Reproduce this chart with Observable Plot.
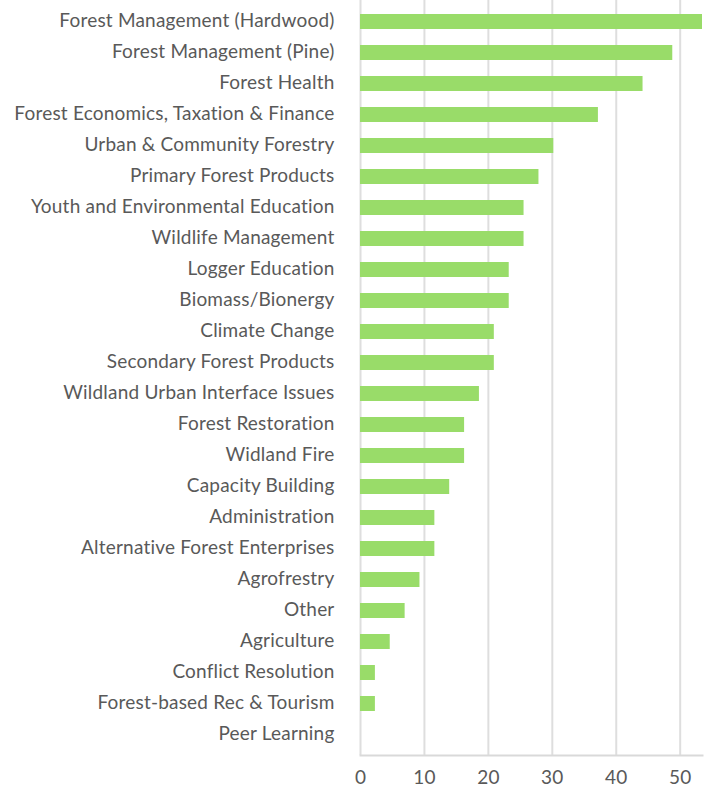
<!DOCTYPE html>
<html>
<head>
<meta charset="utf-8">
<script src="https://cdn.jsdelivr.net/npm/d3@7"></script>
<script src="https://cdn.jsdelivr.net/npm/@observablehq/plot@0.6"></script>
<style>
  html, body { margin: 0; padding: 0; background: #fff; }
  #chart { width: 711px; height: 787px; }
  #chart text { letter-spacing: 0.2px; }
</style>
</head>
<body>
<div id="chart"></div>
<script>
const categories = [
  "Forest Management (Hardwood)",
  "Forest Management (Pine)",
  "Forest Health",
  "Forest Economics, Taxation & Finance",
  "Urban & Community Forestry",
  "Primary Forest Products",
  "Youth and Environmental Education",
  "Wildlife Management",
  "Logger Education",
  "Biomass/Bionergy",
  "Climate Change",
  "Secondary Forest Products",
  "Wildland Urban Interface Issues",
  "Forest Restoration",
  "Widland Fire",
  "Capacity Building",
  "Administration",
  "Alternative Forest Enterprises",
  "Agrofrestry",
  "Other",
  "Agriculture",
  "Conflict Resolution",
  "Forest-based Rec & Tourism",
  "Peer Learning"
];
const values = [53.49, 48.84, 44.19, 37.21, 30.23, 27.91, 25.58, 25.58, 23.26, 23.26, 20.93, 20.93, 18.60, 16.28, 16.28, 13.95, 11.63, 11.63, 9.30, 6.98, 4.65, 2.33, 2.33, 0];
const xTicks = [0, 10, 20, 30, 40, 50];

const data = categories.map((c, i) => ({category: c, value: values[i]}));

const chart = Plot.plot({
  width: 711,
  height: 787,
  marginLeft: 360,
  marginRight: 9,
  marginTop: 0,
  marginBottom: 32,
  style: {fontFamily: "Lato, sans-serif", fontSize: "19px", color: "#595959", background: "#fff"},
  x: {domain: [0, 53.49], ticks: xTicks},
  y: {domain: categories, paddingInner: 0.52, paddingOuter: 0.36},
  marks: [
    Plot.gridX(xTicks, {stroke: "#dedede", strokeWidth: 2, strokeOpacity: 1}),
    Plot.frame({anchor: "bottom", stroke: "#d9d9d9", strokeWidth: 2}),
    Plot.barX(data, {x: "value", y: "category", fill: "#99dc69"}),
    Plot.axisX(xTicks, {tickSize: 0, tickPadding: 15, label: null, fontSize: 19, fill: "#595959"}),
    Plot.axisY({tickSize: 0, tickPadding: 26, label: null, fontSize: 19, fill: "#595959", dy: -1})
  ]
});
document.getElementById("chart").appendChild(chart);
</script>
</body>
</html>
